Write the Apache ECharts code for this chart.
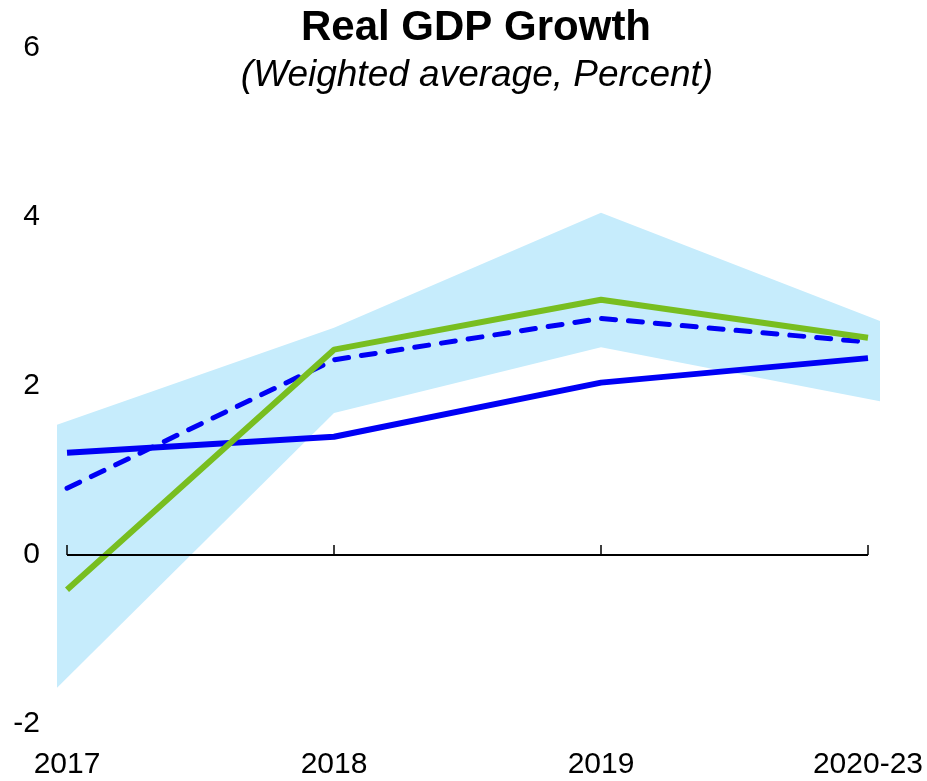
<!DOCTYPE html>
<html>
<head>
<meta charset="utf-8">
<script src="https://cdn.jsdelivr.net/npm/echarts@6/dist/echarts.min.js"></script>
<style>
  html, body { margin: 0; padding: 0; background: #fff; }
  #gdp { width: 927px; height: 781px; }
</style>
</head>
<body>
<div id="gdp"></div>
<script type="text/javascript">
var years = ['2017', '2018', '2019', '2020-23'];
var yearX = [0, 1, 2, 3];
// band is a bit wider than the lines, edges read at the band's own ends
var bandX = [-0.0375, 1, 2, 3.045];
var bandLow = [-1.57, 1.68, 2.46, 1.82];
var bandHigh = [1.54, 2.69, 4.05, 2.77];
var blueSolid = [1.21, 1.40, 2.04, 2.33];
var blueDash = [0.79, 2.31, 2.80, 2.52];
var green = [-0.41, 2.43, 3.02, 2.57];
var yTicks = [-2, 0, 2, 4, 6];

function pairs(xs, ys) {
  return ys.map(function (v, i) { return [xs[i], v]; });
}

var gdp = document.getElementById('gdp');
var gdpChart = echarts.init(gdp);
var font = 'Liberation Sans, Arial, sans-serif';

var option = {
  animation: false,
  title: [{
    text: 'Real GDP Growth',
    left: 476, top: 7, textAlign: 'center', padding: 0,
    textStyle: { fontFamily: font, fontSize: 42, fontWeight: 'bold', color: '#000' }
  }, {
    text: '(Weighted average, Percent)',
    left: 477, top: 57, textAlign: 'center', padding: 0,
    textStyle: { fontFamily: font, fontSize: 37, fontStyle: 'italic', fontWeight: 'normal', color: '#000' }
  }],
  grid: { left: 57, right: 47, top: 48, bottom: 57, outerBoundsMode: 'none', containLabel: false },
  xAxis: [{
    type: 'value',
    min: -0.0375, max: 3.045,
    axisLine: { show: false, onZero: false },
    axisTick: { show: false },
    splitLine: { show: false },
    axisLabel: {
      fontFamily: font, fontSize: 30, color: '#000', margin: 26,
      customValues: yearX,
      formatter: function (v) { return years[Math.round(v)]; }
    }
  }, {
    type: 'value',
    min: -0.0375, max: 3.045,
    position: 'bottom',
    z: 5,
    axisLine: { show: false, onZero: true },
    axisTick: { show: true, inside: true, length: 10, customValues: yearX, lineStyle: { color: '#000', width: 1.5 } },
    splitLine: { show: false },
    axisLabel: { show: false }
  }],
  yAxis: {
    type: 'value',
    min: -2, max: 6, interval: 2,
    axisLine: { show: false },
    axisTick: { show: false },
    splitLine: { show: false },
    axisLabel: {
      fontFamily: font, fontSize: 30, color: '#000', margin: 17,
      formatter: function (v) { return yTicks.indexOf(v) >= 0 ? String(v) : ''; }
    }
  },
  series: [{
    // upper edge of the band, filled down to the axis start
    type: 'line', data: pairs(bandX, bandHigh), symbol: 'none',
    lineStyle: { opacity: 0 }, silent: true, z: 1,
    areaStyle: { color: '#c6ecfc', opacity: 1, origin: 'start' }
  }, {
    // lower edge, white fill below clears the rest
    type: 'line', data: pairs(bandX, bandLow), symbol: 'none',
    lineStyle: { opacity: 0 }, silent: true, z: 1,
    areaStyle: { color: '#fff', opacity: 1, origin: 'start' }
  }, {
    name: 'blue', type: 'line', data: pairs(yearX, blueSolid), symbol: 'none',
    lineStyle: { color: '#0000f5', width: 6 }, z: 3,
    markLine: {
      silent: true, symbol: 'none', label: { show: false },
      lineStyle: { color: '#000', width: 2, type: 'solid' },
      data: [[{ coord: [yearX[0], 0] }, { coord: [yearX[3], 0] }]]
    }
  }, {
    name: 'dash', type: 'line', data: pairs(yearX, blueDash), symbol: 'none',
    lineStyle: { color: '#0000f5', width: 5, type: [14, 13], cap: 'round' }, z: 3
  }, {
    name: 'green', type: 'line', data: pairs(yearX, green), symbol: 'none',
    lineStyle: { color: '#78be20', width: 6 }, z: 4
  }]
};

gdpChart.setOption(option);
</script>
</body>
</html>
